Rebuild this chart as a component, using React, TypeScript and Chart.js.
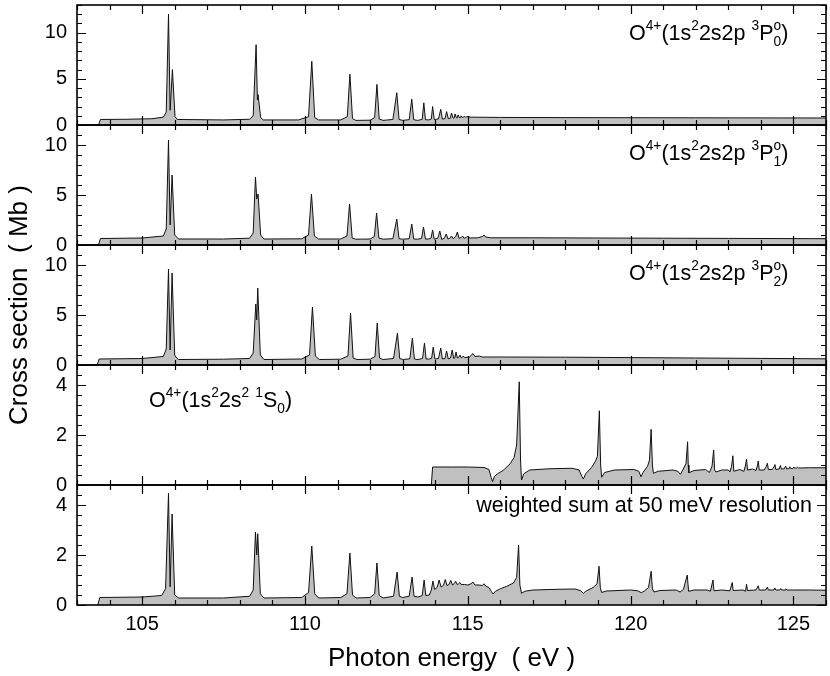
import React, { useEffect, useRef } from "react";
import { Chart, registerables } from "chart.js";

Chart.register(...registerables);

// ---- data: [photon energy (eV), cross section (Mb)] ----
const p0Points: [number, number][] = [
  [103.66, 0], [103.72, 0.6], [104.5, 0.62], [105.3, 0.68], [105.65, 0.85], [105.74, 1.4], [105.81, 12.0], [105.86, 1.6],
  [105.93, 6.0], [106.01, 0.9], [106.08, 0.6], [107.5, 0.55], [108.3, 0.62], [108.41, 1.0], [108.5, 8.7], [108.54, 2.7],
  [108.56, 3.3], [108.64, 0.8], [108.72, 0.55], [109.8, 0.55], [110.11, 0.9], [110.21, 6.9], [110.3, 0.8], [110.42, 0.55],
  [111.1, 0.55], [111.3, 0.9], [111.38, 5.5], [111.46, 0.7], [111.56, 0.5], [112.0, 0.52], [112.14, 0.8], [112.21, 4.4],
  [112.28, 0.65], [112.4, 0.5], [112.7, 0.6], [112.82, 3.5], [112.89, 0.6], [113.0, 0.5], [113.2, 0.58], [113.28, 2.8],
  [113.34, 0.58], [113.45, 0.5], [113.6, 0.6], [113.65, 2.4], [113.7, 0.58], [113.8, 0.55], [113.88, 0.65], [113.92, 2.0],
  [113.97, 0.6], [114.1, 0.65], [114.17, 1.7], [114.22, 0.65], [114.3, 0.68], [114.35, 1.45], [114.4, 0.7], [114.46, 0.72],
  [114.5, 1.3], [114.55, 0.74], [114.58, 0.76], [114.61, 1.2], [114.65, 0.78], [114.68, 0.8], [114.7, 1.1], [114.74, 0.8],
  [114.77, 0.82], [114.79, 1.0], [114.83, 0.82], [114.87, 0.85], [114.89, 0.95], [114.93, 0.85], [114.97, 0.9], [115.1, 0.85],
  [116, 0.82], [118, 0.8], [120, 0.79], [122, 0.78], [124, 0.77], [126, 0.76],
];

const p1Points: [number, number][] = [
  [103.66, 0], [103.72, 0.65], [105.0, 0.7], [105.65, 0.9], [105.74, 1.6], [105.81, 10.5], [105.86, 2.0], [105.92, 7.0],
  [106.0, 1.0], [106.06, 0.8], [106.12, 0.6], [107.5, 0.6], [108.3, 0.68], [108.41, 1.2], [108.48, 6.8], [108.52, 4.6],
  [108.56, 5.1], [108.64, 1.0], [108.74, 0.6], [109.9, 0.62], [110.11, 1.0], [110.2, 5.1], [110.29, 0.9], [110.42, 0.6],
  [111.1, 0.6], [111.29, 0.9], [111.37, 4.1], [111.45, 0.7], [111.56, 0.58], [112.0, 0.6], [112.13, 0.85], [112.2, 3.2],
  [112.27, 0.7], [112.4, 0.58], [112.7, 0.63], [112.82, 2.6], [112.89, 0.63], [113.0, 0.58], [113.2, 0.63], [113.28, 2.1],
  [113.34, 0.6], [113.45, 0.58], [113.58, 0.66], [113.64, 1.8], [113.7, 0.6], [113.8, 0.6], [113.87, 0.68], [113.92, 1.5],
  [113.97, 0.58], [114.08, 0.68], [114.14, 1.4], [114.2, 0.55], [114.28, 0.68], [114.34, 1.1], [114.39, 0.6], [114.45, 0.68],
  [114.5, 0.9], [114.55, 0.63], [114.63, 0.85], [114.68, 1.3], [114.73, 0.68], [114.79, 0.73], [114.84, 0.9], [114.88, 0.68],
  [114.95, 0.73], [115.0, 0.9], [115.05, 0.7], [115.3, 0.72], [115.45, 0.85], [115.5, 1.0], [115.55, 0.8], [115.7, 0.72],
  [117, 0.72], [119, 0.7], [121, 0.68], [123, 0.66], [126, 0.63],
];

const p2Points: [number, number][] = [
  [103.62, 0], [103.68, 0.6], [105.0, 0.65], [105.65, 0.85], [105.74, 1.6], [105.81, 9.6], [105.86, 1.5], [105.92, 9.2],
  [106.0, 1.0], [106.06, 0.7], [106.12, 0.55], [107.5, 0.58], [108.3, 0.65], [108.41, 1.2], [108.49, 6.1], [108.52, 4.5],
  [108.55, 7.7], [108.63, 1.0], [108.74, 0.55], [109.9, 0.6], [110.14, 1.0], [110.23, 5.8], [110.32, 0.9], [110.44, 0.55],
  [111.1, 0.58], [111.32, 0.9], [111.4, 5.2], [111.48, 0.7], [111.6, 0.55], [112.0, 0.58], [112.15, 0.85], [112.22, 4.2],
  [112.29, 0.7], [112.4, 0.55], [112.72, 0.65], [112.84, 3.2], [112.91, 0.65], [113.02, 0.55], [113.22, 0.62], [113.3, 2.7],
  [113.36, 0.6], [113.47, 0.55], [113.61, 0.65], [113.67, 2.2], [113.72, 0.6], [113.82, 0.6], [113.89, 0.68], [113.94, 1.8],
  [113.99, 0.6], [114.1, 0.65], [114.17, 1.7], [114.22, 0.6], [114.3, 0.65], [114.35, 1.4], [114.4, 0.6], [114.47, 0.7],
  [114.52, 1.5], [114.57, 0.65], [114.6, 0.7], [114.64, 1.3], [114.68, 0.7], [114.72, 0.75], [114.76, 1.0], [114.8, 0.72],
  [114.83, 0.75], [114.86, 0.9], [114.9, 0.75], [115.05, 0.8], [115.16, 1.15], [115.22, 0.85], [115.35, 0.9], [115.45, 0.8],
  [116, 0.8], [118, 0.78], [120, 0.74], [122, 0.7], [124, 0.66], [126, 0.62],
];

const p3Points: [number, number][] = [
  [113.88, 0], [113.92, 0.72], [114.5, 0.72], [115.0, 0.72], [115.5, 0.7], [115.65, 0.62], [115.72, 0.3], [115.76, 0.13],
  [115.82, 0.35], [115.92, 0.45], [116.1, 0.6], [116.3, 0.85], [116.42, 1.1], [116.5, 1.6], [116.58, 4.13], [116.62, 1.0],
  [116.65, 0.2], [116.72, 0.45], [116.9, 0.6], [117.5, 0.65], [118.2, 0.67], [118.42, 0.6], [118.5, 0.35], [118.55, 0.24],
  [118.62, 0.45], [118.8, 0.7], [118.92, 0.95], [118.98, 1.15], [119.04, 2.97], [119.08, 0.8], [119.11, 0.31], [119.2, 0.5],
  [119.5, 0.6], [120.1, 0.62], [120.25, 0.55], [120.32, 0.33], [120.38, 0.5], [120.52, 0.75], [120.58, 1.0], [120.63, 2.23],
  [120.67, 0.8], [120.7, 0.47], [120.85, 0.55], [121.3, 0.6], [121.45, 0.55], [121.53, 0.43], [121.6, 0.6], [121.7, 0.85],
  [121.75, 1.73], [121.77, 0.8], [121.79, 0.49], [121.95, 0.58], [122.3, 0.62], [122.42, 0.5], [122.5, 0.75], [122.55, 1.4],
  [122.58, 0.6], [122.62, 0.52], [122.8, 0.6], [123.0, 0.6], [123.05, 0.52], [123.1, 0.75], [123.14, 1.17], [123.17, 0.55],
  [123.35, 0.62], [123.48, 0.55], [123.53, 0.8], [123.56, 1.04], [123.59, 0.6], [123.75, 0.64], [123.85, 0.58], [123.9, 0.8],
  [123.92, 0.96], [123.95, 0.6], [124.1, 0.6], [124.17, 0.75], [124.2, 0.87], [124.23, 0.62], [124.35, 0.62], [124.41, 0.75],
  [124.43, 0.82], [124.46, 0.62], [124.56, 0.64], [124.6, 0.78], [124.63, 0.64], [124.72, 0.65], [124.76, 0.76], [124.79, 0.65],
  [124.86, 0.65], [124.89, 0.73], [124.92, 0.66], [124.98, 0.66], [125.01, 0.72], [125.04, 0.67], [125.1, 0.68], [125.13, 0.71],
  [125.16, 0.68], [125.5, 0.69], [126, 0.69],
];

const p4Points: [number, number][] = [
  [103.64, 0], [103.7, 0.3], [105.0, 0.32], [105.6, 0.38], [105.72, 0.65], [105.81, 4.47], [105.86, 0.73], [105.92, 3.64],
  [106.0, 0.4], [106.12, 0.28], [107.5, 0.28], [108.3, 0.35], [108.41, 0.6], [108.48, 2.92], [108.52, 2.0], [108.55, 2.85],
  [108.63, 0.45], [108.74, 0.28], [109.9, 0.3], [110.11, 0.5], [110.21, 2.36], [110.3, 0.45], [110.42, 0.28], [111.1, 0.3],
  [111.29, 0.45], [111.38, 2.08], [111.46, 0.4], [111.57, 0.28], [112.0, 0.3], [112.14, 0.45], [112.21, 1.68], [112.28, 0.38],
  [112.4, 0.28], [112.72, 0.35], [112.83, 1.32], [112.9, 0.35], [113.0, 0.3], [113.2, 0.35], [113.29, 1.12], [113.35, 0.35],
  [113.47, 0.32], [113.6, 0.38], [113.66, 1.0], [113.71, 0.38], [113.82, 0.4], [113.88, 0.6], [113.93, 0.96], [113.98, 0.62],
  [114.06, 0.7], [114.12, 1.0], [114.18, 0.72], [114.25, 0.78], [114.31, 1.02], [114.36, 0.78], [114.42, 0.82], [114.48, 0.98],
  [114.53, 0.8], [114.58, 0.85], [114.63, 0.95], [114.67, 0.82], [114.72, 0.85], [114.76, 0.9], [114.8, 0.82], [114.9, 0.82],
  [115.0, 0.8], [115.1, 0.85], [115.16, 0.92], [115.22, 0.8], [115.35, 0.8], [115.45, 0.78], [115.5, 0.85], [115.55, 0.76],
  [115.65, 0.7], [115.72, 0.55], [115.78, 0.44], [115.85, 0.55], [116.0, 0.65], [116.2, 0.75], [116.4, 0.88], [116.5, 1.1],
  [116.56, 2.4], [116.6, 0.8], [116.65, 0.47], [116.75, 0.55], [117.0, 0.6], [117.8, 0.63], [118.3, 0.64], [118.45, 0.58],
  [118.55, 0.47], [118.62, 0.55], [118.85, 0.7], [118.97, 0.85], [119.03, 1.55], [119.07, 0.7], [119.11, 0.5], [119.25, 0.56],
  [120.0, 0.6], [120.22, 0.57], [120.33, 0.49], [120.42, 0.56], [120.55, 0.7], [120.63, 1.35], [120.67, 0.65], [120.72, 0.52],
  [120.9, 0.58], [121.4, 0.6], [121.52, 0.52], [121.62, 0.62], [121.74, 1.2], [121.78, 0.55], [121.95, 0.6], [122.35, 0.6],
  [122.45, 0.55], [122.53, 1.0], [122.56, 0.57], [122.8, 0.6], [123.05, 0.57], [123.12, 0.9], [123.15, 0.58], [123.45, 0.6],
  [123.53, 0.55], [123.56, 0.83], [123.59, 0.58], [123.85, 0.6], [123.92, 0.77], [123.95, 0.6], [124.15, 0.6], [124.2, 0.72],
  [124.23, 0.6], [124.4, 0.6], [124.43, 0.68], [124.46, 0.6], [124.58, 0.6], [124.61, 0.66], [124.64, 0.6], [124.75, 0.6],
  [124.77, 0.65], [124.8, 0.6], [125.0, 0.6], [125.5, 0.6], [126, 0.59],
];

const xTickValues = [105, 110, 115, 120, 125];
const bigTickValues = [0, 5, 10];
const smallTickValues = [0, 2, 4];

// Panel definitions (top to bottom)
const PANELS = [
  { id: "y0", points: p0Points, max: 13, labels: bigTickValues, minor: 1, per: 5 },
  { id: "y1", points: p1Points, max: 12, labels: bigTickValues, minor: 1, per: 5 },
  { id: "y2", points: p2Points, max: 12, labels: bigTickValues, minor: 1, per: 5 },
  { id: "y3", points: p3Points, max: 4.8, labels: smallTickValues, minor: 0.4, per: 5 },
  { id: "y4", points: p4Points, max: 4.8, labels: smallTickValues, minor: 0.4, per: 5 },
];

const FONT = "'Liberation Sans', Arial, Helvetica, sans-serif";

type Part = { t: string; k?: "sup" | "sub" | "ss"; t2?: string };

function drawRich(ctx: CanvasRenderingContext2D, x: number, y: number, parts: Part[], fs: number) {
  const sfs = fs * 0.64;
  let cx = x;
  ctx.textAlign = "left";
  ctx.textBaseline = "alphabetic";
  for (const p of parts) {
    if (!p.k) {
      ctx.font = `${fs}px ${FONT}`;
      ctx.fillText(p.t, cx, y);
      cx += ctx.measureText(p.t).width;
    } else if (p.k === "sup") {
      ctx.font = `${sfs}px ${FONT}`;
      ctx.fillText(p.t, cx, y - fs * 0.42);
      cx += ctx.measureText(p.t).width;
    } else if (p.k === "sub") {
      ctx.font = `${sfs}px ${FONT}`;
      ctx.fillText(p.t, cx, y + fs * 0.28);
      cx += ctx.measureText(p.t).width;
    } else {
      ctx.font = `${sfs}px ${FONT}`;
      ctx.fillText(p.t, cx, y - fs * 0.42);
      ctx.fillText(p.t2 || "", cx, y + fs * 0.28);
      cx += Math.max(ctx.measureText(p.t).width, ctx.measureText(p.t2 || "").width);
    }
  }
}

const tripletLabel = (j: string): Part[] => [
  { t: "O" }, { t: "4+", k: "sup" }, { t: "(1s" }, { t: "2", k: "sup" }, { t: "2s2p " }, { t: "3", k: "sup" },
  { t: "P" }, { t: "o", k: "ss", t2: j }, { t: ")" },
];
const singletLabel: Part[] = [
  { t: "O" }, { t: "4+", k: "sup" }, { t: "(1s" }, { t: "2", k: "sup" }, { t: "2s" }, { t: "2", k: "sup" }, { t: " " },
  { t: "1", k: "sup" }, { t: "S" }, { t: "0", k: "sub" }, { t: ")" },
];

const framePlugin = {
  id: "frames",
  afterDatasetsDraw(chart: any) {
    const ctx: CanvasRenderingContext2D = chart.ctx;
    const ca = chart.chartArea;
    const xs = chart.scales.x;
    ctx.save();
    ctx.strokeStyle = "#000";
    ctx.fillStyle = "#000";
    PANELS.forEach((p) => {
      const s = chart.scales[p.id];
      const top = s.top;
      const bot = s.bottom;
      ctx.lineWidth = 1.2;
      ctx.beginPath();
      for (let v = Math.ceil(xs.min); v <= xs.max; v++) {
        const px = Math.round(xs.getPixelForValue(v)) + 0.5;
        const len = v % 5 === 0 ? 9 : 5;
        ctx.moveTo(px, bot);
        ctx.lineTo(px, bot - len);
        ctx.moveTo(px, top);
        ctx.lineTo(px, top + len);
      }
      for (let i = 0; i * p.minor <= s.max + 1e-9; i++) {
        const py = Math.round(s.getPixelForValue(i * p.minor)) + 0.5;
        const len = i % p.per === 0 ? 9 : 5;
        ctx.moveTo(ca.left, py);
        ctx.lineTo(ca.left + len, py);
        ctx.moveTo(ca.right, py);
        ctx.lineTo(ca.right - len, py);
      }
      ctx.stroke();
      ctx.lineWidth = 1.6;
      ctx.strokeRect(ca.left, top, ca.right - ca.left, bot - top);
    });

    // annotations
    const fs = 21.5;
    drawRich(ctx, ca.right - 197, chart.scales.y0.top + 34.5, tripletLabel("0"), fs);
    drawRich(ctx, ca.right - 197, chart.scales.y1.top + 34.5, tripletLabel("1"), fs);
    drawRich(ctx, ca.right - 197, chart.scales.y2.top + 34.5, tripletLabel("2"), fs);
    drawRich(ctx, ca.left + 72, chart.scales.y3.top + 41.5, singletLabel, fs);
    ctx.font = `${fs}px ${FONT}`;
    ctx.textAlign = "right";
    ctx.textBaseline = "alphabetic";
    ctx.fillText("weighted sum at 50 meV resolution", ca.right - 14, chart.scales.y4.top + 27);

    // axis titles
    ctx.font = `26px ${FONT}`;
    ctx.textAlign = "center";
    ctx.textBaseline = "alphabetic";
    ctx.fillText("Photon energy  ( eV )", (ca.left + ca.right) / 2, 666);
    ctx.save();
    ctx.translate(27, (ca.top + ca.bottom) / 2);
    ctx.rotate(-Math.PI / 2);
    ctx.font = `26px ${FONT}`;
    ctx.fillText("Cross section  ( Mb )", 0, 0);
    ctx.restore();
    ctx.restore();
  },
};

export default function App() {
  const ref = useRef<HTMLCanvasElement | null>(null);
  useEffect(() => {
    if (!ref.current) return;
    const scales: any = {
      x: {
        type: "linear",
        position: "bottom",
        min: 103,
        max: 126,
        grid: { display: false, drawTicks: false },
        border: { display: false },
        ticks: { font: { family: FONT, size: 20 }, color: "#000", padding: 7, maxRotation: 0 },
        afterBuildTicks: (s: any) => {
          s.ticks = xTickValues.map((v) => ({ value: v }));
        },
        afterFit: (s: any) => {
          s.height = 71;
          s.paddingLeft = 0;
          s.paddingRight = 0;
        },
      },
    };
    PANELS.forEach((p, i) => {
      scales[p.id] = {
        type: "linear",
        position: "left",
        stack: "panels",
        stackWeight: 1,
        weight: PANELS.length - i,
        min: 0,
        max: p.max,
        grid: { display: false, drawTicks: false },
        border: { display: false },
        ticks: { font: { family: FONT, size: 20 }, color: "#000", padding: 10 },
        afterBuildTicks: (s: any) => {
          s.ticks = p.labels.map((v) => ({ value: v }));
        },
        afterFit: (s: any) => {
          s.width = 77;
          s.paddingTop = 0;
          s.paddingBottom = 0;
        },
      };
    });
    const chart = new Chart(ref.current, {
      type: "line",
      data: {
        datasets: PANELS.map((p) => ({
          data: p.points.map(([x, y]) => ({ x, y })),
          yAxisID: p.id,
          borderColor: "#111",
          borderWidth: 1,
          backgroundColor: "#c0c0c0",
          fill: "origin",
          pointRadius: 0,
          tension: 0,
        })),
      },
      options: {
        responsive: false,
        animation: false,
        devicePixelRatio: 1,
        parsing: false as any,
        layout: { padding: { left: 0, right: 4, top: 5, bottom: 0 } },
        plugins: { legend: { display: false }, tooltip: { enabled: false } },
        scales,
      } as any,
      plugins: [framePlugin],
    });
    return () => chart.destroy();
  }, []);
  return (
    <div style={{ position: "absolute", left: 0, top: 0, width: 830, height: 676, background: "#fff" }}>
      <canvas ref={ref} width={830} height={676} style={{ width: 830, height: 676 }} />
    </div>
  );
}
